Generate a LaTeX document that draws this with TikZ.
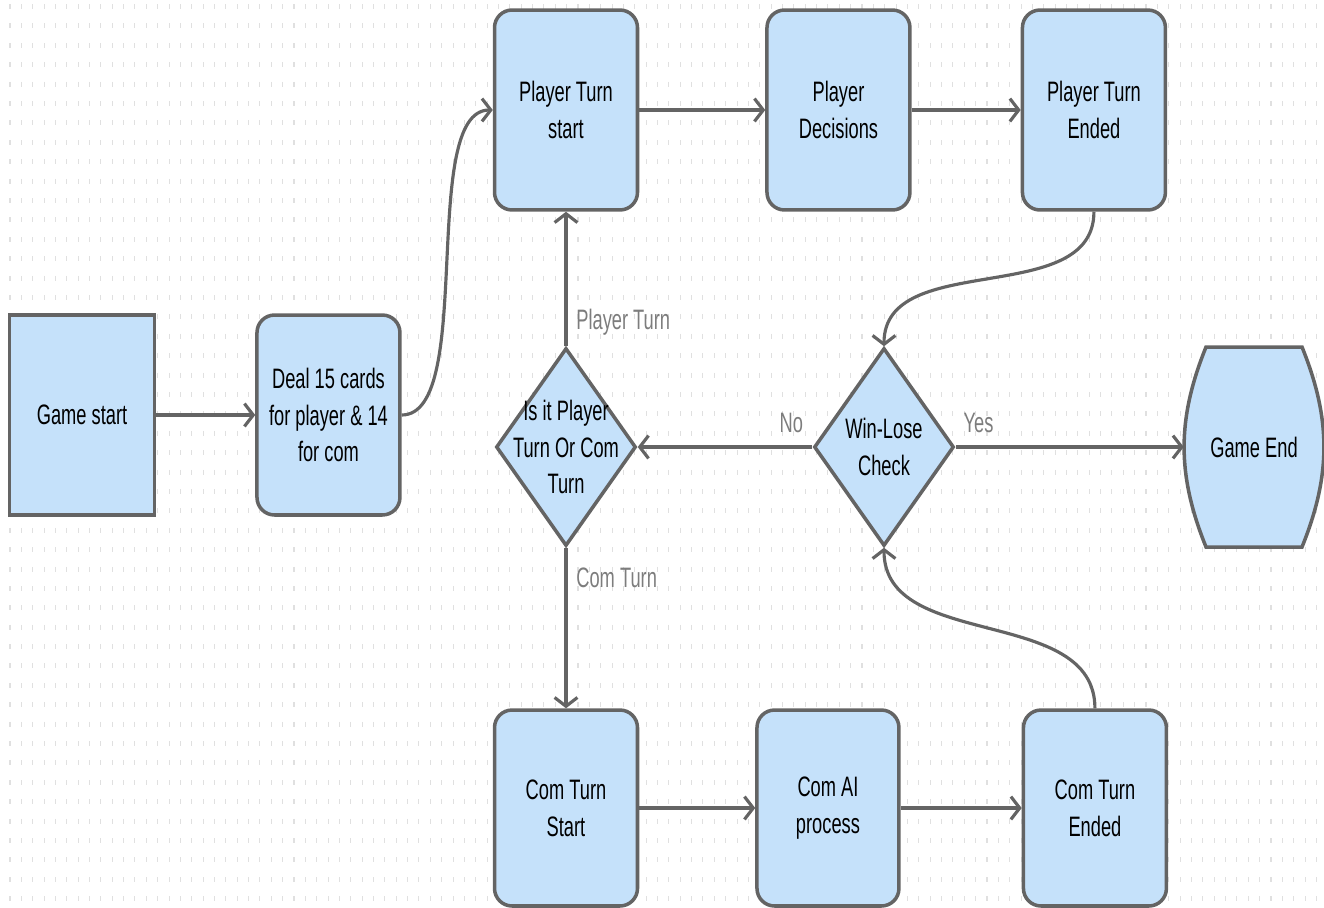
\documentclass[tikz,border=0pt]{standalone}
\usepackage{fontspec}
\setmainfont{Liberation Sans}[FakeStretch=0.65]
\usetikzlibrary{arrows.meta,shapes.geometric,positioning}
\definecolor{boxblue}{RGB}{197,225,250}
\definecolor{linegray}{RGB}{100,100,100}
\definecolor{labelgray}{RGB}{125,125,125}
\definecolor{gridgray}{RGB}{224,224,224}
\tikzset{
  basic/.style    = {draw=linegray, line width=2pt, fill=boxblue, align=center, inner sep=0pt, font=\fontsize{16}{21}\selectfont},
  startbox/.style = {basic, rectangle, minimum width=2.9cm, minimum height=4cm},
  stepbox/.style  = {basic, rectangle, rounded corners=10pt, minimum width=2.86cm, minimum height=4cm},
  decision/.style = {basic, diamond, minimum width=2.8cm, minimum height=3.96cm},
  endbox/.style   = {basic, draw=none, fill=none, rectangle, minimum width=2.74cm, minimum height=4cm},
  flow/.style     = {draw=linegray, line width=1.8pt, -{Straight Barb[length=5pt,width=13pt]}},
  cond/.style     = {inner sep=1pt, text=labelgray, font=\fontsize{16}{21}\selectfont},
  gridtick/.style = {draw=gridgray, line width=0.6pt, dash pattern=on 0.1cm off 0.288cm}
}

\begin{document}
\begin{tikzpicture}[x=0.02cm, y=-0.02cm]
\useasboundingbox (0,0) rectangle (1324,907);

% dotted background
\foreach \gx in {10,21.36,...,1324}
  \draw[gridtick] (\gx,4) -- (\gx,907);

% left part
\node [startbox] (gs) at (82,415) {Game start};
\node [stepbox, right=1.98cm of gs] (deal) {Deal 15 cards\\for player \& 14\\for com};

% player row
\node [stepbox] (pts) at (566,110) {Player Turn\\start};
\node [stepbox, right=2.52cm of pts] (pd) {Player\\Decisions};
\node [stepbox, right=2.18cm of pd] (pte) {Player Turn\\Ended};

% decisions
\node [decision] (dec) at (566,447) {\makebox[0pt]{Is it Player}\\\makebox[0pt]{Turn Or Com}\\\makebox[0pt]{Turn}};
\node [decision] (wl) at (884,447) {\makebox[0pt]{Win-Lose}\\\makebox[0pt]{Check}};

% end shape, flat top and bottom, curved sides
\draw[basic] (1206,347) -- (1302,347) to[bend left=22] (1302,547) -- (1206,547) to[bend left=22] cycle
  node [endbox] (ge) at (1254,447) {Game End};

% com row
\node [stepbox, minimum height=3.92cm] (cts) at (566,808) {Com Turn\\Start};
\node [stepbox, minimum height=3.92cm, right=2.32cm of cts, minimum width=2.84cm] (cai) {Com AI\\process};
\node [stepbox, minimum height=3.92cm, right=2.42cm of cai] (cte) {Com Turn\\Ended};

% connectors
\draw[flow] (gs) -- (deal);
\draw[flow] (deal.east) to[out=0, in=180, looseness=0.6] (pts.west);
\draw[flow] (pts) -- (pd);
\draw[flow] (pd) -- (pte);
\draw[flow] (pte.south) to[out=-90, in=90] (wl.north);
\draw[flow] (wl.west) -- node[cond, pos=0.12, anchor=base, yshift=8.5pt]{No} (dec.east);
\draw[flow] (wl.east) -- node[cond, pos=0.10, anchor=base, yshift=8.5pt]{Yes} (ge.west);
\draw[flow] (dec.north) -- node[cond, pos=0.18, right=4pt]{Player Turn} (pts.south);
\draw[flow] (dec.south) -- node[cond, pos=0.19, right=4pt]{Com Turn} (cts.north);
\draw[flow] (cts) -- (cai);
\draw[flow] (cai) -- (cte);
\draw[flow] (cte.north) to[out=90, in=-90] (wl.south);

\end{tikzpicture}
\end{document}
